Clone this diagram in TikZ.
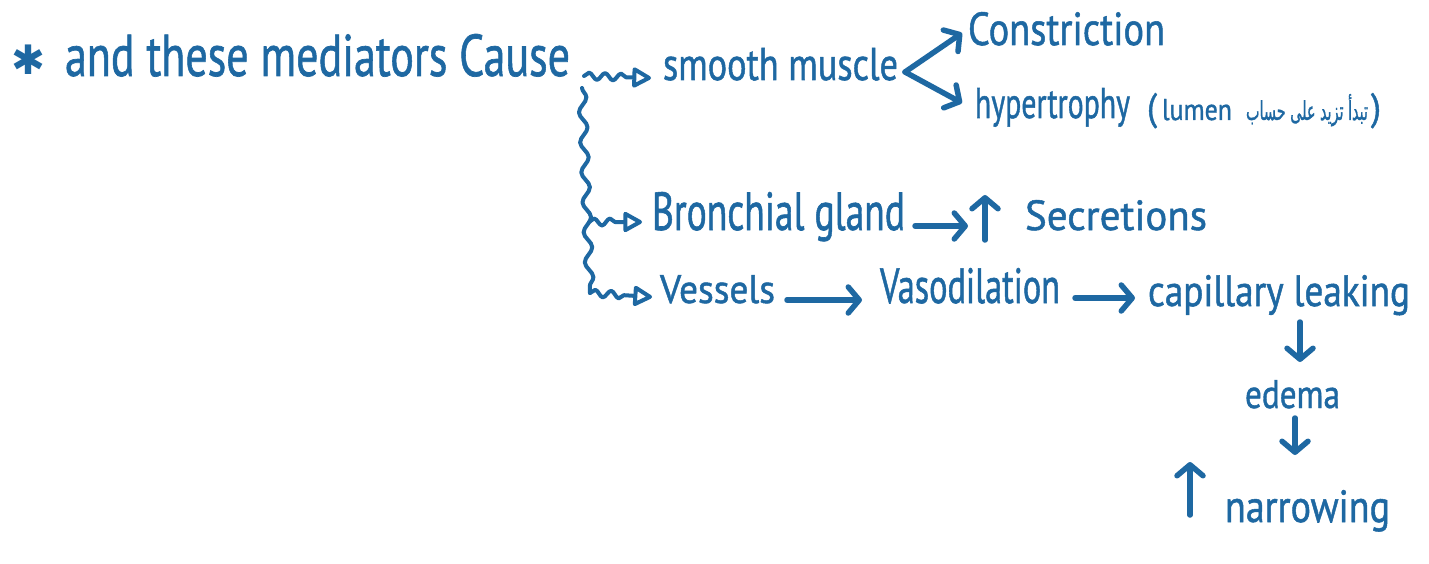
\documentclass[tikz,border=0pt]{standalone}
\usepackage{fontspec}
\usepackage{graphicx}
\setmainfont{PT Sans}
\newfontfamily\handfont{PT Sans}[FakeBold=1.2]
\newfontfamily\arabicfont[Script=Arabic,FakeBold=1.2]{DejaVu Sans}
\newfontfamily\symfont{DejaVu Sans}
\TeXXeTstate=1
\usetikzlibrary{arrows.meta,decorations.pathmorphing,calc}
\definecolor{ink}{RGB}{30,104,162}
% handwritten-style word: stretched to a given width and height
\newcommand{\hw}[3]{\resizebox{#1pt}{#2pt}{#3}}
\tikzset{
  word/.style={inner sep=0pt, outer sep=0pt, anchor=base west, text=ink, font=\fontsize{30}{36}\handfont},
  arr/.style={draw=ink, line width=5.5pt, line cap=round, line join=round,
    -{Straight Barb[length=11pt,width=26pt,line cap=round,line join=round]}},
  wavy/.style={draw=ink, line width=4pt, line cap=round, line join=round,
    decorate, decoration={snake, amplitude=3.5pt, segment length=16pt, post length=24pt}},
  wavytip/.style={wavy, -{Triangle[open,length=21pt,width=22pt,line width=4pt,round]}},
  trunk/.style={draw=ink, line width=4pt, line cap=round, line join=round,
    decorate, decoration={snake, amplitude=4pt, segment length=30pt}},
}
\begin{document}
\begin{tikzpicture}[x=1pt, y=-1pt]
\useasboundingbox[fill=white] (0,0) rectangle (1429,564);

% texts
\node[inner sep=0pt, text=ink] (star) at (28,60) {\resizebox{34pt}{!}{\symfont ✱}};
\node[word] (main) at (65,76) {\hw{505}{42}{and these mediators Cause}};
\node[word] (smooth) at (663,80) {\hw{235}{32}{smooth muscle}};
\node[word] (constr) at (968,45) {\hw{197}{33}{Constriction}};
\node[word] (hyper) at (975,118) {\hw{155}{30}{hypertrophy}};
\node[word] (lumen) at (1147,120) {\hw{10}{27}{(}\hspace{5pt}\hw{70}{21}{lumen}\hspace{14pt}\hw{122}{26}{\arabicfont\beginR تبدأ تزيد على حساب\endR}};
\node[word] (lumenclose) at ($(lumen.base east)+(3,0)$) {\hw{10}{27}{)}};
\node[word] (bron) at (652,230) {\hw{253}{38}{Bronchial gland}};
\node[word] (sec) at (1025,230) {\hw{182}{30}{Secretions}};
\node[word] (vessels) at (660,303) {\hw{115}{28}{Vessels}};
\node[word] (vaso) at (880,303) {\hw{180}{35}{Vasodilation}};
\node[word] (cap) at (1148,306) {\hw{262}{31}{capillary leaking}};
\node[word] (edema) at (1245,408) {\hw{95}{28}{edema}};
\node[word] (narrow) at (1225,522) {\hw{165}{32}{narrowing}};

% wavy branches leaving "Cause"
\coordinate (tt) at ($(main.base east)+(12,12)$);
\coordinate (tb) at ($(vessels.base west)+(-70,-10)$);
\coordinate (tm) at ($(bron.base west)+(-63,-8)$);
\draw[wavytip] ($(main.base east)+(14,0)$) -- ($(smooth.base west)+(-12,-2)$);
\draw[trunk] (tt) -- (tb);
\draw[wavytip] (tm) -- ($(bron.base west)+(-10,-8)$);
\draw[wavytip] (tb) -- ($(vessels.base west)+(-8,-6)$);

% smooth muscle fork
\coordinate (fork) at ($(smooth.base east)+(7,-8)$);
\draw[arr] (fork) -- ($(constr.base west)+(-6,-12)$);
\draw[arr] (fork) -- ($(hyper.base west)+(-13,-15)$);

% gland
\draw[arr] ($(bron.base east)+(10,-4)$) -- ($(sec.base west)+(-57,-4)$);
\draw[arr] ($(sec.base west)+(-40,10)$) -- ($(sec.base west)+(-40,-35)$);

% vessels chain
\draw[arr] ($(vessels.base east)+(12,-3)$) -- ($(vaso.base west)+(-18,-3)$);
\draw[arr] ($(vaso.base east)+(15,-5)$) -- ($(cap.base west)+(-13,-8)$);
\draw[arr] ($(cap.base west)+(152,16)$) -- ($(edema.base west)+(55,-46)$);
\draw[arr] ($(edema.base west)+(50,10)$) -- ($(narrow.base west)+(70,-67)$);
\draw[arr] ($(narrow.base west)+(-35,-7)$) -- ($(narrow.base west)+(-35,-60)$);
\end{tikzpicture}
\end{document}
